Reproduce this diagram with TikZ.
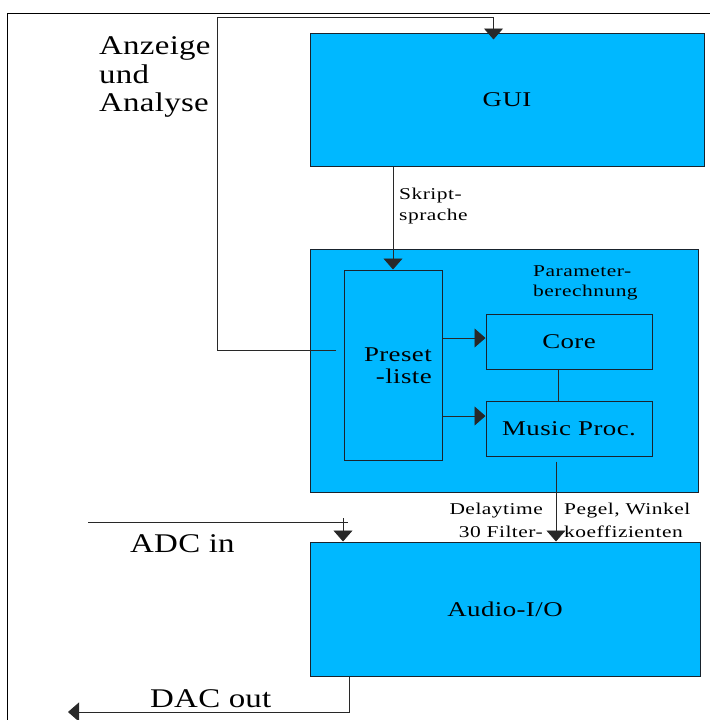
\documentclass[tikz,border=0pt]{standalone}
\usepackage{fontspec}
\setmainfont{Liberation Serif}
\newfontfamily\bigserif[FakeStretch=1.22,LetterSpace=1]{Liberation Serif}
\newfontfamily\midserif[FakeStretch=1.28,LetterSpace=2]{Liberation Serif}
\newfontfamily\smallserif[FakeStretch=1.3,LetterSpace=3]{Liberation Serif}
\usetikzlibrary{arrows.meta,calc}
\definecolor{boxblue}{RGB}{0,184,255}
\definecolor{edgec}{RGB}{25,35,45}
\definecolor{wirec}{RGB}{40,40,40}

\begin{document}
\begin{tikzpicture}[x=1pt,y=-1pt,
  block/.style={draw=edgec,line width=1pt,fill=boxblue,inner sep=0pt},
  wire/.style={draw=wirec,line width=0.9pt},
  arr/.style={wire,-{Triangle[width=19pt,length=11pt]}},
  lab/.style={inner sep=0pt,text=black},
  bigf/.style={font={\bigserif\fontsize{27}{28.5}\selectfont}},
  midf/.style={font={\midserif\fontsize{21}{22}\selectfont}},
  smallf/.style={font={\smallserif\fontsize{16.5}{20.5}\selectfont}}]
\useasboundingbox (0,0) rectangle (710,720);

% page frame
\draw[line width=1pt] (7,720) -- (7,13) -- (710,13);

% blocks
\node[block,midf,minimum width=394pt,minimum height=133pt] (gui) at (507,99.5) {GUI};
\node[block,minimum width=388pt,minimum height=243pt] (param) at (504,370.5) {};
\node[block,minimum width=98pt,minimum height=190pt] (preset) at (393,365) {};
\node[block,midf,minimum width=166pt,minimum height=55pt] (core) at (569,341.5) {Core};
\node[block,midf,minimum width=166pt,minimum height=55pt] (music) at (569,428.5) {Music Proc.};
\node[block,midf,minimum width=390pt,minimum height=134pt] (audio) at (505,609) {Audio-I/O};

% labels
\node[lab,midf,anchor=north east,align=right] (presettxt) at (432,348) {Preset\\-liste};
\node[lab,bigf,anchor=north west,align=left] (anz) at (99,36.6) {Anzeige\\und\\Analyse};
\node[lab,bigf,anchor=base west] (adc) at (130,552) {ADC in};
\node[lab,bigf,anchor=base west] (dac) at (150,707) {DAC out};
\node[lab,smallf,anchor=north west,align=left] (skript) at (399,188) {Skript-\\sprache};
\node[lab,smallf,anchor=north west,align=left] (paramtxt) at (533,265) {Parameter-\\berechnung};
\node[lab,smallf,anchor=north east,align=right,font={\smallserif\fontsize{16.5}{22.5}\selectfont}] (delay) at (543,503) {Delaytime\\30 Filter-};
\node[lab,smallf,anchor=north west,align=left,font={\smallserif\fontsize{16.5}{22.5}\selectfont}] (pegel) at (564,503) {Pegel, Winkel\\koeffizienten};

% feedback from the preset list back to the GUI
\coordinate (fbstart) at (336,350);
\coordinate (fbcorner) at (217,17);
\coordinate (guiin) at ($(gui.north west)+(184,7)$);
\draw[arr] (fbstart) -| (fbcorner) -| (guiin);

% script language into the preset list
\draw[arr] (gui.south -| preset.north) -- (preset.north);

% preset list into core and music processing
\draw[arr] ([yshift=27pt]preset.east) -- ([yshift=27pt]preset.east -| core.west);
\draw[arr] ([yshift=-51pt]preset.east) -- ([yshift=-51pt]preset.east -| music.west);
\coordinate (cm) at ([xshift=-11pt]core.south);
\draw[wire] (cm) -- (cm |- music.north);

% parameters down to the audio block
\coordinate (mo) at ([xshift=-13pt,yshift=-5pt]music.south);
\draw[arr] (mo) -- (mo |- audio.north);

% converter input and output
\coordinate (adcin) at (88,522);
\coordinate (adcend) at (348,522);
\draw[wire] (adcin) -- (adcend);
\coordinate (adctick) at (343,518);
\draw[arr] (adctick) -- (adctick |- audio.north);
\coordinate (dacout) at (68,712);
\draw[arr] ([xshift=-156pt]audio.south) |- (dacout);
\end{tikzpicture}
\end{document}
